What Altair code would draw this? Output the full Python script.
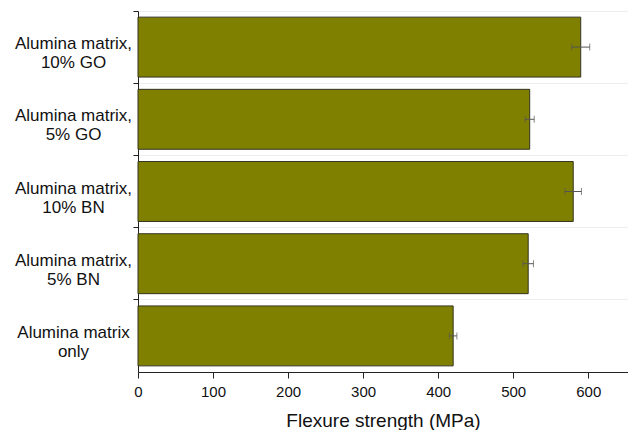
import altair as alt
import pandas as pd

# Data (top to bottom)
line1 = ["Alumina matrix,", "Alumina matrix,", "Alumina matrix,", "Alumina matrix,", "Alumina matrix"]
line2 = ["10% GO", "5% GO", "10% BN", "5% BN", "only"]
strength = [590, 522, 580, 520, 420]
error = [12, 6, 11, 7, 5]
x_ticks = list(range(0, 651, 50))

cats = [a + "\n" + b for a, b in zip(line1, line2)]
df = pd.DataFrame({"cat": cats, "v": strength, "e": error})
df["lo"] = df["v"] - df["e"]
df["hi"] = df["v"] + df["e"]

FONT = "Liberation Sans"

yaxis = alt.Axis(
    title=None,
    bandPosition=0,
    labelOffset=-3,
    labelExpr="split(datum.label, '\\n')",
    labelAlign="center",
    labelBaseline="middle",
    labelPadding=60,
    labelFontSize=17,
    labelLineHeight=19,
    labelFont=FONT,
    labelColor="#111111",
    tickSize=5,
    tickColor="#222222",
    domainColor="#222222",
    grid=True,
    gridColor="#eeeeee",
)

xaxis = alt.Axis(
    title="Flexure strength (MPa)",
    values=x_ticks,
    labelExpr="datum.value % 100 === 0 ? datum.label : ''",
    tickSize={"condition": {"test": "datum.value % 100 === 0", "value": 6}, "value": 3},
    tickColor="#222222",
    domainColor="#222222",
    grid=False,
    labelFlush=False,
    labelFontSize=15,
    labelFont=FONT,
    labelColor="#111111",
    labelPadding=6,
    titleFontSize=19,
    titleFont=FONT,
    titleFontWeight="normal",
    titleColor="#111111",
    titlePadding=12,
)

ysc = alt.Scale(paddingInner=0, paddingOuter=0)
xsc = alt.Scale(domain=[0, 653], nice=False, zero=True)

base = alt.Chart(df)

bars = base.mark_bar(
    height={"band": 0.83}, color="#808000", stroke="#333320", strokeWidth=1
).encode(
    y=alt.Y("cat:N", sort=cats, scale=ysc, axis=yaxis),
    x=alt.X("v:Q", scale=xsc, axis=xaxis),
)

rule = base.mark_rule(color="#555555", strokeWidth=1).encode(
    y=alt.Y("cat:N", sort=cats),
    x=alt.X("lo:Q"),
    x2="hi:Q",
)

cap_lo = base.mark_tick(color="#555555", size=7, thickness=1).encode(
    y=alt.Y("cat:N", sort=cats), x=alt.X("lo:Q")
)
cap_hi = base.mark_tick(color="#555555", size=7, thickness=1).encode(
    y=alt.Y("cat:N", sort=cats), x=alt.X("hi:Q")
)

chart = (
    alt.layer(bars, rule, cap_lo, cap_hi)
    .properties(
        width=490,
        height=361,
        padding={"left": 6, "top": 2, "right": 0, "bottom": 0},
    )
    .configure_view(stroke=None)
)

chart.save("out.html", embed_options={"renderer": "svg", "actions": False})
